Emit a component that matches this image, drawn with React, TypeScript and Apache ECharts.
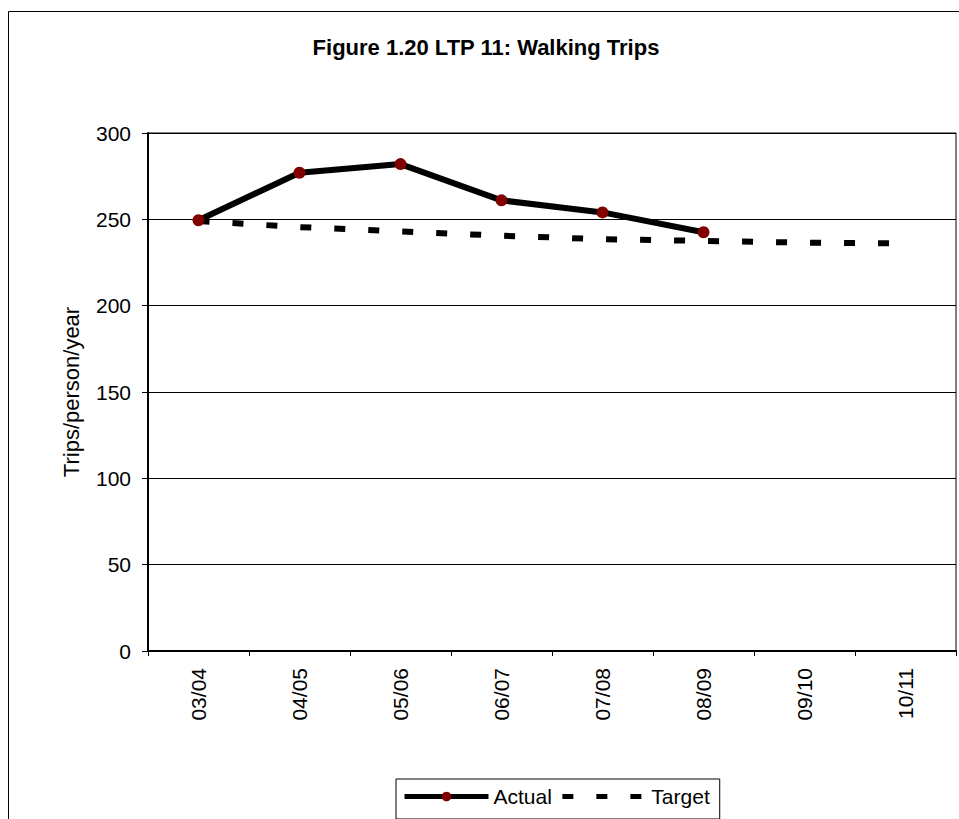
import React, { useEffect, useRef } from "react";
import * as echarts from "echarts";

const categories = ["03/04", "04/05", "05/06", "06/07", "07/08", "08/09", "09/10", "10/11"];
const actualValues = [249.5, 277, 282, 261, 254, 242.5];
const targetValues = [249, 245.5, 243, 240.5, 238.5, 237.5, 236.5, 236];
const yTicks = { min: 0, max: 300, interval: 50 };
const titleText = "Figure 1.20 LTP 11: Walking Trips";
const yAxisTitle = "Trips/person/year";

const FONT = 'Arial, "Liberation Sans", sans-serif';
const DASH = [11, 23];

export default function App() {
  const ref = useRef<HTMLDivElement>(null);
  useEffect(() => {
    document.body.style.margin = "0";
    const chart = echarts.init(ref.current!, null, { renderer: "svg" });
    chart.setOption({
      animation: false,
      backgroundColor: "#fff",
      textStyle: { fontFamily: FONT },
      graphic: [
        {
          type: "rect",
          shape: { x: 8.5, y: 11.5, width: 1000, height: 1000 },
          style: { fill: "none", stroke: "#000", lineWidth: 1 },
          silent: true,
        },
        {
          type: "text",
          x: 486,
          y: 47,
          style: {
            text: titleText,
            fontSize: 22,
            fontWeight: "bold",
            fontFamily: FONT,
            fill: "#000",
            align: "center",
            verticalAlign: "middle",
          },
        },
      ],
      grid: {
        left: 148,
        top: 133,
        right: 3,
        height: 518,
        show: true,
        borderColor: "#000",
        borderWidth: 1,
        backgroundColor: "transparent",
      },
      legend: {
        left: 396,
        top: 779,
        orient: "horizontal",
        padding: [7, 10, 12, 6],
        borderColor: "#000",
        borderWidth: 1,
        itemWidth: 84,
        itemHeight: 12,
        itemGap: 8,
        backgroundColor: "#fff",
        textStyle: { fontSize: 21, color: "#000", fontFamily: FONT },
        data: [
          {
            name: "Actual",
            lineStyle: { width: 5, color: "#000" },
            itemStyle: { color: "#800000" },
          },
          {
            name: "Target",
            lineStyle: { width: 5, color: "#000", type: DASH },
            itemStyle: { color: "rgba(0,0,0,0)", opacity: 0 },
          },
        ],
      },
      xAxis: {
        type: "category",
        data: categories,
        boundaryGap: true,
        axisLine: { lineStyle: { color: "#000", width: 2 } },
        axisTick: { show: true, length: 5, lineStyle: { color: "#000", width: 1 } },
        axisLabel: { rotate: 90, margin: 17, fontSize: 21, color: "#000", fontFamily: FONT },
        splitLine: { show: false },
      },
      yAxis: {
        type: "value",
        min: yTicks.min,
        max: yTicks.max,
        interval: yTicks.interval,
        name: yAxisTitle,
        nameLocation: "middle",
        nameRotate: 90,
        nameGap: 66,
        nameTextStyle: { fontSize: 22, color: "#000", fontFamily: FONT },
        axisLine: { show: true, lineStyle: { color: "#000", width: 2 } },
        axisTick: { show: true, length: 6, lineStyle: { color: "#000", width: 1 } },
        axisLabel: { margin: 17, fontSize: 21, color: "#000", fontFamily: FONT },
        splitLine: { show: true, lineStyle: { color: "#000", width: 1 } },
      },
      series: [
        {
          name: "Actual",
          type: "line",
          data: actualValues,
          z: 3,
          symbol: "circle",
          symbolSize: 12,
          lineStyle: { color: "#000", width: 6 },
          itemStyle: { color: "#800000", borderWidth: 0 },
        },
        {
          name: "Target",
          type: "line",
          data: targetValues,
          z: 2,
          symbol: "none",
          lineStyle: { color: "#000", width: 6, type: DASH, cap: "butt" },
          itemStyle: { color: "#000" },
        },
      ],
    });
    return () => chart.dispose();
  }, []);
  return <div ref={ref} style={{ width: 959, height: 819 }} />;
}
